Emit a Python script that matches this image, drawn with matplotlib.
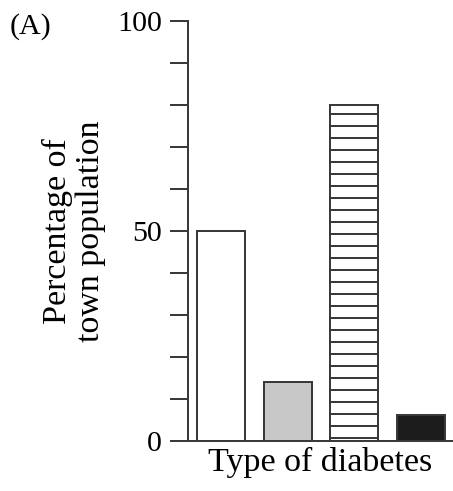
import matplotlib
matplotlib.use('Agg')
import matplotlib.pyplot as plt
from matplotlib.ticker import MultipleLocator

categories = ['Type 1', 'Type 2', 'Type 3', 'Type 4']
values = [50, 14, 80, 6.3]
fills = ['white', '#c8c8c8', 'white', '#1c1c1c']
hatches = ['', '', '-', '']

plt.rcParams['font.family'] = ['Liberation Serif', 'DejaVu Serif']
plt.rcParams['hatch.linewidth'] = 2.0

edge = '#3a3a3a'

fig = plt.figure(figsize=(453 / 72, 491 / 72), dpi=72)
ax = fig.add_axes([188 / 453, 1 - 441 / 491, 264 / 453, 420 / 491])

x = range(len(categories))
for i in x:
    ax.bar(i, values[i], width=0.72, color=fills[i], edgecolor=edge,
           linewidth=2, hatch=hatches[i])

ax.set_xlim(-0.49, 3.46)
ax.set_ylim(0, 100)
ax.set_xticks([])
ax.yaxis.set_major_locator(MultipleLocator(50))
ax.yaxis.set_minor_locator(MultipleLocator(10))
ax.tick_params(axis='y', which='both', direction='out', length=18, width=2,
               color=edge, labelsize=30, pad=8)

for s in ['top', 'right']:
    ax.spines[s].set_visible(False)
for s in ['left', 'bottom']:
    ax.spines[s].set_linewidth(2)
    ax.spines[s].set_color(edge)

ax.set_xlabel('Type of diabetes', fontsize=34, labelpad=6)
ax.set_ylabel('Percentage of\ntown population', fontsize=34, labelpad=11,
              linespacing=1.12)

fig.text(10 / 453, 1 - 34 / 491, '(A)', fontsize=30, ha='left', va='baseline')

fig.savefig('out.png', dpi=72)
